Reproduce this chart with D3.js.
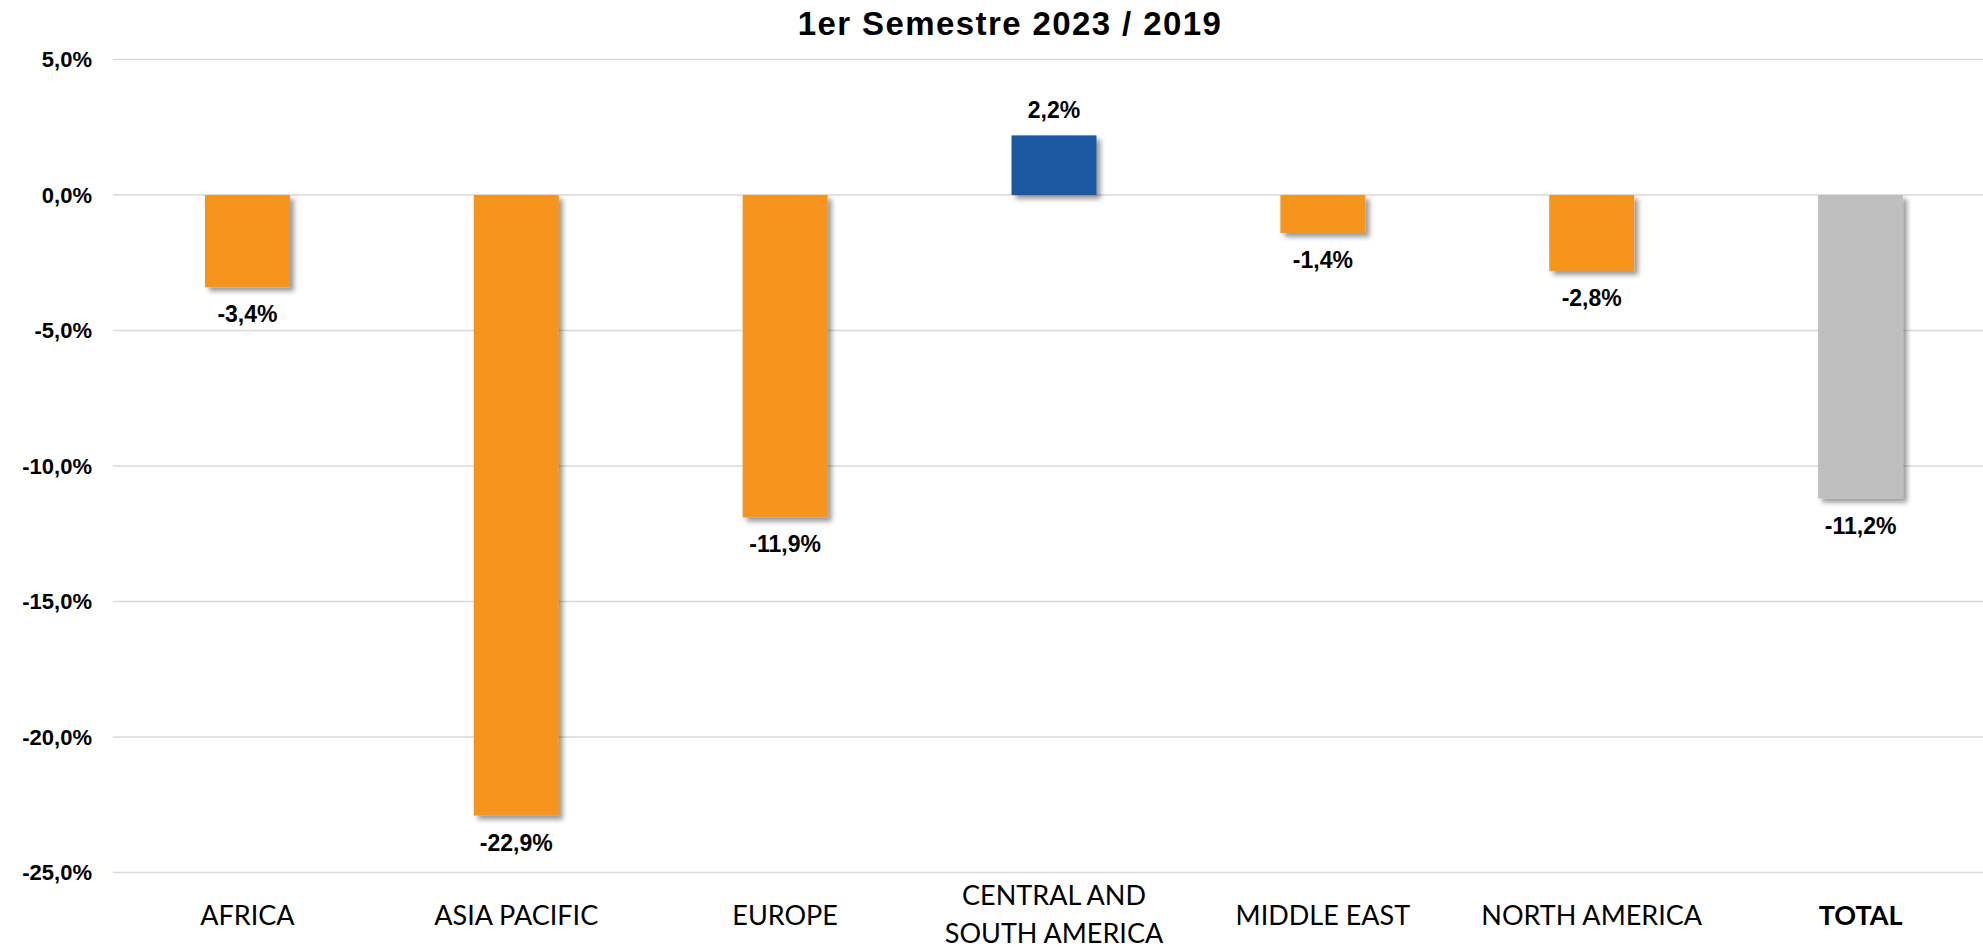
<!DOCTYPE html>
<html>
<head>
<meta charset="utf-8">
<script src="https://cdn.jsdelivr.net/npm/d3@7"></script>
<style>
  html, body { margin: 0; padding: 0; background: #fff; }
  svg { display: block; }
  .num { font-family: "Liberation Sans", Arial, sans-serif; font-weight: bold; fill: #000; }
  .cat { font-family: Lato, "Open Sans", sans-serif; fill: #000; }
</style>
</head>
<body>
<svg width="1983" height="948"></svg>
<script>
const regions = ["AFRICA", "ASIA PACIFIC", "EUROPE", "CENTRAL AND SOUTH AMERICA", "MIDDLE EAST", "NORTH AMERICA", "TOTAL"];
const changes = [-3.4, -22.9, -11.9, 2.2, -1.4, -2.8, -11.2];
const yTicks = [5, 0, -5, -10, -15, -20, -25];
const titleText = "1er Semestre 2023 / 2019";

const colors = {
  up: "#1B59A2",     // blue
  down: "#F7941E",   // orange
  total: "#BFBFBF"   // grey
};

const svg = d3.select("svg"),
      W = +svg.attr("width");

const loc = d3.formatLocale({decimal: ",", thousands: ".", grouping: [3], currency: ["", ""], minus: "-"});
const fmt = v => loc.format(".1f")(v) + "%";

const x = d3.scaleBand()
  .domain(regions)
  .range([113, 1995])
  .paddingInner(0.684)
  .paddingOuter(0.342);

const y = d3.scaleLinear().domain([-25, 5]).range([872.5, 59.5]);

// drop shadow like the office chart
const defs = svg.append("defs");
defs.append("filter")
  .attr("id", "shadow")
  .attr("x", "-20%").attr("y", "-20%")
  .attr("width", "150%").attr("height", "150%")
  .append("feDropShadow")
  .attr("dx", 4).attr("dy", 4)
  .attr("stdDeviation", 2.5)
  .attr("flood-color", "#000")
  .attr("flood-opacity", 0.4);

// gridlines
svg.append("g")
  .selectAll("line")
  .data(yTicks)
  .join("line")
  .attr("x1", 113)
  .attr("x2", W)
  .attr("y1", d => y(d))
  .attr("y2", d => y(d))
  .attr("stroke", "#d9d9d9")
  .attr("stroke-width", 1.5);

// y axis labels
svg.append("g")
  .selectAll("text")
  .data(yTicks)
  .join("text")
  .attr("class", "num")
  .attr("x", 92)
  .attr("y", d => y(d))
  .attr("dy", "0.36em")
  .attr("text-anchor", "end")
  .style("font-size", "22px")
  .text(d => fmt(d));

// title
svg.append("text")
  .attr("class", "num")
  .attr("x", 1010)
  .attr("y", 35)
  .attr("text-anchor", "middle")
  .style("font-size", "33px")
  .style("letter-spacing", "1.4px")
  .text(titleText);

const data = regions.map((r, i) => ({region: r, value: changes[i]}));

// bars
svg.append("g")
  .selectAll("rect")
  .data(data)
  .join("rect")
  .attr("x", d => x(d.region))
  .attr("width", x.bandwidth())
  .attr("y", d => y(Math.max(0, d.value)))
  .attr("height", d => Math.abs(y(d.value) - y(0)))
  .attr("fill", d => d.region === "TOTAL" ? colors.total : (d.value >= 0 ? colors.up : colors.down))
  .attr("filter", "url(#shadow)");

// value labels
svg.append("g")
  .selectAll("text")
  .data(data)
  .join("text")
  .attr("class", "num")
  .attr("x", d => x(d.region) + x.bandwidth() / 2)
  .attr("y", d => d.value >= 0 ? y(d.value) - 17 : y(d.value) + 35)
  .attr("text-anchor", "middle")
  .style("font-size", "23px")
  .text(d => fmt(d.value));

// category labels (two lines for the long one)
const catLines = {"CENTRAL AND SOUTH AMERICA": ["CENTRAL AND", "SOUTH AMERICA"]};
const cats = svg.append("g")
  .selectAll("text")
  .data(regions)
  .join("text")
  .attr("class", "cat")
  .attr("x", d => x(d) + x.bandwidth() / 2)
  .attr("y", d => catLines[d] ? 905 : 924.5)
  .attr("text-anchor", "middle")
  .style("font-size", "27px")
  .style("font-weight", d => d === "TOTAL" ? "bold" : "normal");

cats.each(function(d) {
  const lines = catLines[d] || [d];
  d3.select(this).selectAll("tspan")
    .data(lines)
    .join("tspan")
    .attr("x", x(d) + x.bandwidth() / 2)
    .attr("dy", (l, i) => i === 0 ? 0 : 38)
    .text(l => l);
});
</script>
</body>
</html>
